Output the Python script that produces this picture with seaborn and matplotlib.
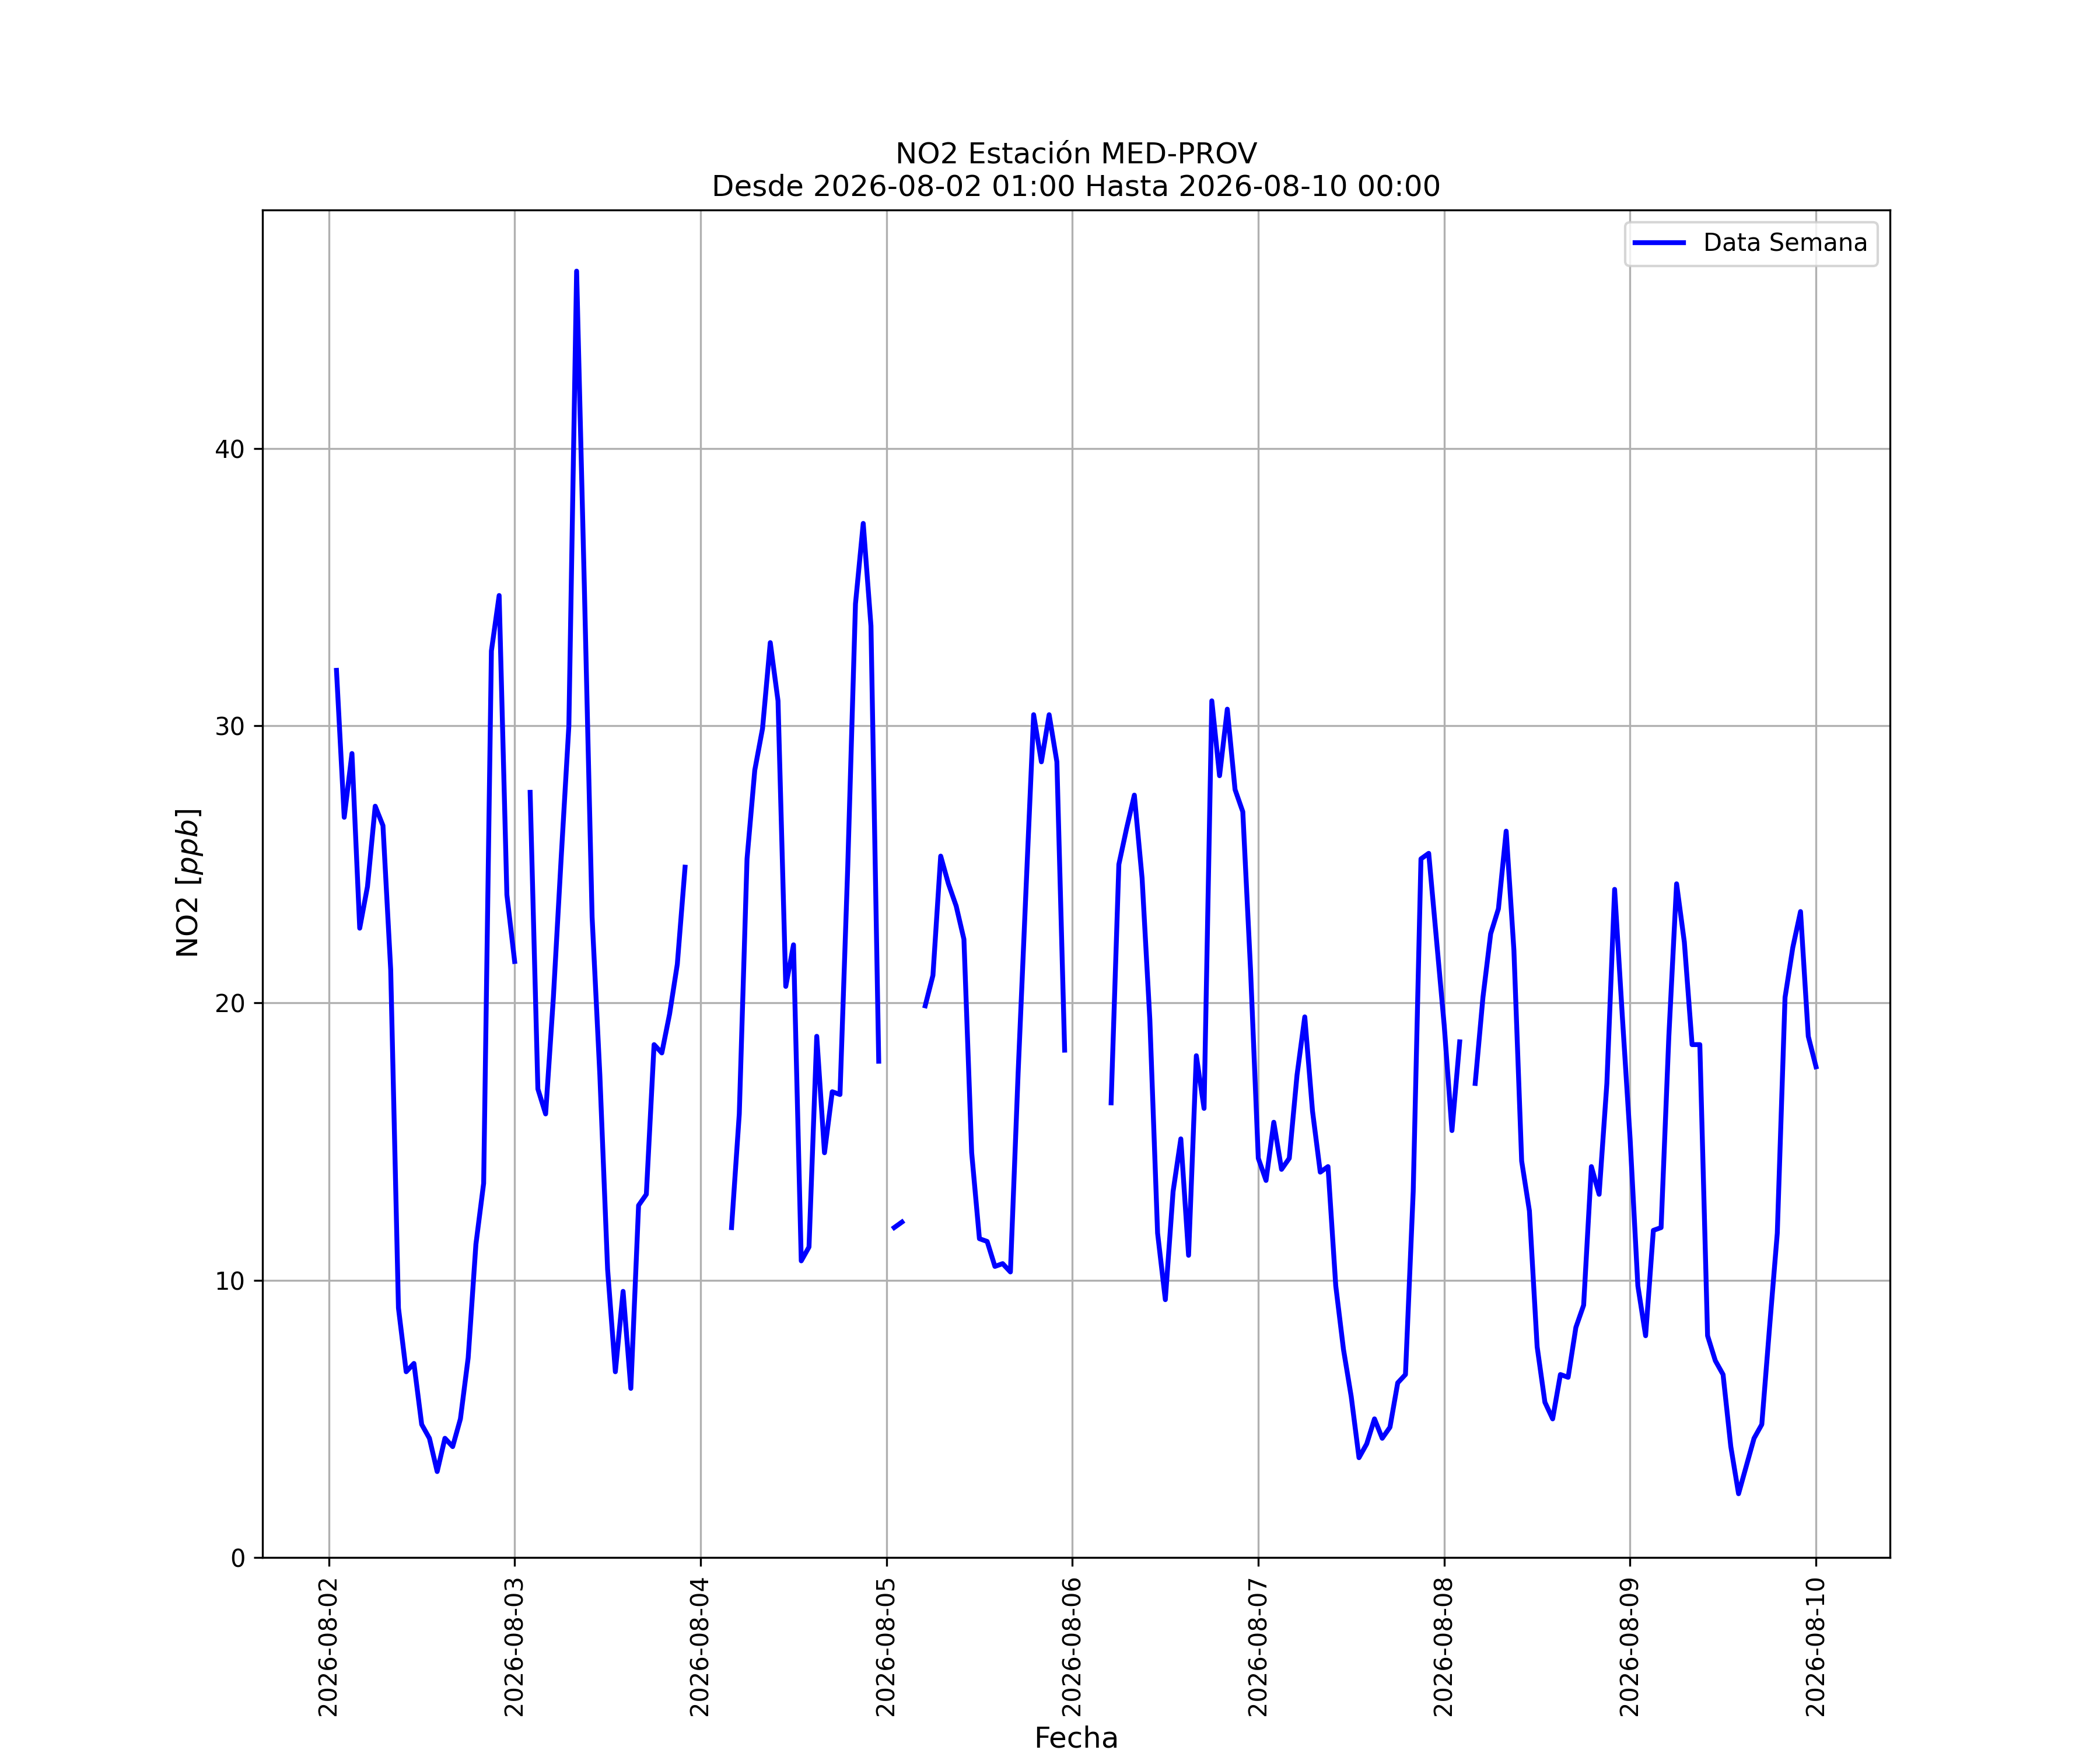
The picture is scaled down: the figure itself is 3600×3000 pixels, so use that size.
import numpy as np
import pandas as pd
import matplotlib
matplotlib.use("Agg")
import matplotlib.pyplot as plt
import matplotlib.dates as mdates
import seaborn as sns

# Hourly NO2 values (ppb), each block goes from 01:00 of the day to 00:00 of the next
nan = np.nan
dia_02 = [32.0, 26.7, 29.0, 22.7, 24.2, 27.1, 26.4, 21.2, 9.0, 6.7, 7.0, 4.8,
          4.3, 3.1, 4.3, 4.0, 5.0, 7.2, 11.3, 13.5, 32.7, 34.7, 23.9, 21.5]
dia_03 = [nan, 27.6, 16.9, 16.0, 20.2, 25.2, 30.0, 46.4, 35.0, 23.1, 17.4, 10.4,
          6.7, 9.6, 6.1, 12.7, 13.1, 18.5, 18.2, 19.6, 21.4, 24.9, nan, nan]
dia_04 = [nan, nan, nan, 11.9, 16.0, 25.2, 28.4, 29.9, 33.0, 30.9, 20.6, 22.1,
          10.7, 11.2, 18.8, 14.6, 16.8, 16.7, 24.9, 34.4, 37.3, 33.6, 17.9, nan]
dia_05 = [11.9, 12.1, nan, nan, 19.9, 21.0, 25.3, 24.3, 23.5, 22.3, 14.6, 11.5,
          11.4, 10.5, 10.6, 10.3, 17.5, 24.0, 30.4, 28.7, 30.4, 28.7, 18.3, nan]
dia_06 = [nan, nan, nan, nan, 16.4, 25.0, 26.3, 27.5, 24.5, 19.4, 11.7, 9.3,
          13.2, 15.1, 10.9, 18.1, 16.2, 30.9, 28.2, 30.6, 27.7, 26.9, 21.2, 14.4]
dia_07 = [13.6, 15.7, 14.0, 14.4, 17.4, 19.5, 16.1, 13.9, 14.1, 9.8, 7.5, 5.8,
          3.6, 4.1, 5.0, 4.3, 4.7, 6.3, 6.6, 13.2, 25.2, 25.4, 22.3, 19.2]
dia_08 = [15.4, 18.6, nan, 17.1, 20.2, 22.5, 23.4, 26.2, 21.9, 14.3, 12.5, 7.6,
          5.6, 5.0, 6.6, 6.5, 8.3, 9.1, 14.1, 13.1, 17.1, 24.1, 19.5, 15.1]
dia_09 = [9.8, 8.0, 11.8, 11.9, 18.8, 24.3, 22.2, 18.5, 18.5, 8.0, 7.1, 6.6,
          4.0, 2.3, 3.3, 4.3, 4.8, 8.3, 11.7, 20.2, 22.0, 23.3, 18.8, 17.7]

inicio = "2026-08-02 01:00"
fin = "2026-08-10 00:00"
estacion = "MED-PROV"

valores = dia_02 + dia_03 + dia_04 + dia_05 + dia_06 + dia_07 + dia_08 + dia_09
fechas = pd.date_range(inicio, fin, freq="h")

df = pd.DataFrame({"Fecha": fechas, "NO2": valores})
# Split into contiguous pieces so missing hours stay as gaps
df["tramo"] = df["NO2"].isna().cumsum()
df = df.dropna()

fig, ax = plt.subplots(figsize=(12, 10), dpi=300)

sns.lineplot(data=df, x="Fecha", y="NO2", units="tramo", estimator=None,
             color="blue", linewidth=2, solid_capstyle="projecting", ax=ax)

ax.set_ylim(bottom=0)
ax.xaxis.set_major_locator(mdates.DayLocator())
ax.xaxis.set_major_formatter(mdates.DateFormatter("%Y-%m-%d"))
plt.xticks(rotation=90)
ax.grid(True)

ax.set_xlabel("Fecha", fontsize=12)
ax.set_ylabel("NO2 [$ppb$]", fontsize=12)
ax.set_title("NO2 Estación {}\nDesde {} Hasta {}".format(estacion, inicio, fin), fontsize=12)

ax.legend(handles=[ax.lines[0]], labels=["Data Semana"], loc="upper right")

plt.savefig("out.png", dpi=300)
